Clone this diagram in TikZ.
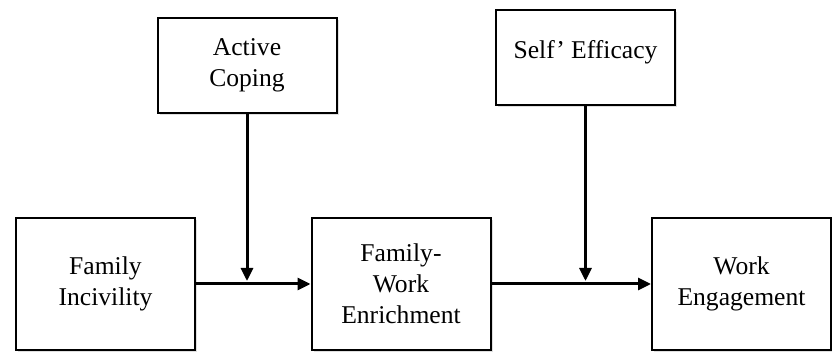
\documentclass[tikz,border=0pt]{standalone}
\usepackage{fontspec}
\setmainfont{Liberation Serif}
\usetikzlibrary{arrows.meta}
\usetikzlibrary{shadows}
\usetikzlibrary{positioning}

\begin{document}
\begin{tikzpicture}
		[
		x=0.5pt, y=-0.5pt,
		font=\fontsize{12.8}{15.5}\selectfont,
		>={Triangle[length=6.5pt,width=6pt]}
		]
		
		% Box and arrow styles
		\tikzstyle{var box}=[draw,line width=1pt,fill=white,align=center,inner sep=0pt,
			minimum width=89.5pt,minimum height=66pt,
			drop shadow={shadow xshift=1.2pt,shadow yshift=-1.2pt,opacity=0.25}];
		\tikzstyle{mod box}=[var box,minimum height=47.5pt];
		\tikzstyle{path arrow}=[->,line width=1.5pt];
		
		\useasboundingbox (0,0) rectangle (832,352);
		
		% Main path
		\node[var box] (fi) at (105.5,284) {Family\\Incivility};
		\node[var box] (fwe) at (401,284) {Family-\\Work\\Enrichment};
		\node[var box] (we) at (741.5,284) {Work\\Engagement};
		
		% Moderators
		\node[mod box] (ac) at (247,65.5) {Active\\Coping};
		\node[mod box,text depth=8pt] (se) at (585.5,57.5) {Self' Efficacy};
		
		% Points where the moderators meet the path
		\coordinate (ac-hit) at (ac.south |- fi.east);
		\coordinate (se-hit) at (se.south |- fwe.east);
		
		% Arrows
		\draw[path arrow] (fi.east) -- (fwe.west);
		\draw[path arrow] (fwe.east) -- (we.west);
		\draw[path arrow,shorten >=1.5pt] (ac.south) -- (ac-hit);
		\draw[path arrow,shorten >=1.5pt] (se.south) -- (se-hit);
		\end{tikzpicture}
\end{document}
